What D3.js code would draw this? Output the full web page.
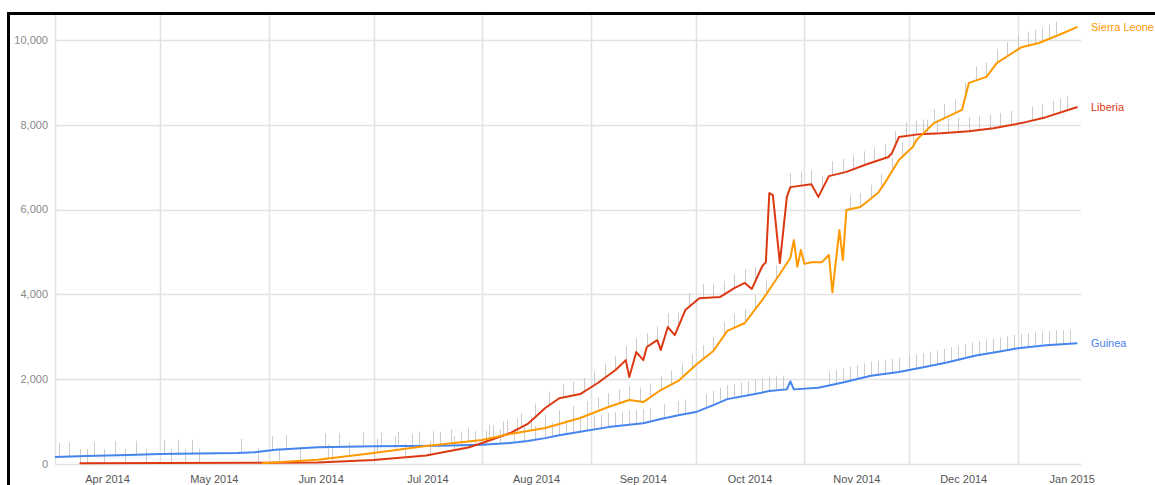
<!DOCTYPE html>
<html><head><meta charset="utf-8">
<script src="https://cdn.jsdelivr.net/npm/d3@7"></script>
<style>
html,body{margin:0;padding:0;background:#fff;}
svg{display:block;font-family:"Liberation Sans",Arial,sans-serif;}
</style></head>
<body>
<svg id="chart" width="1155" height="485"></svg>
<script>
// ---------- DATA ----------
const yTicks = [0, 2000, 4000, 6000, 8000, 10000];
const monthStarts = ["2014-04-01","2014-05-01","2014-06-01","2014-07-01","2014-08-01","2014-09-01","2014-10-01","2014-11-01","2014-12-01","2015-01-01","2015-02-01"];
const seriesNames = ["Guinea","Liberia","Sierra Leone"];
const seriesColors = ["#4684ee","#dc3912","#ff9900"];

const guineaDates = ["2014-04-01","2014-04-10","2014-04-22","2014-05-01","2014-05-23","2014-05-28","2014-06-03","2014-06-15","2014-07-01","2014-07-20","2014-08-01","2014-08-09","2014-08-14","2014-08-19","2014-08-23","2014-08-29","2014-09-06","2014-09-12","2014-09-16","2014-09-21","2014-09-26","2014-10-01","2014-10-06","2014-10-10","2014-10-16","2014-10-22","2014-10-27","2014-10-28","2014-10-29","2014-11-05","2014-11-12","2014-11-20","2014-11-28","2014-12-05","2014-12-12","2014-12-20","2014-12-26","2015-01-01","2015-01-09","2015-01-18"];
const guineaValues = [165,190,215,235,260,275,335,395,420,430,455,495,540,610,680,760,870,925,960,1060,1150,1225,1390,1530,1620,1720,1760,1950,1760,1800,1920,2080,2170,2280,2400,2560,2640,2730,2800,2850];

const liberiaDates = ["2014-04-08","2014-05-01","2014-06-01","2014-06-15","2014-07-01","2014-07-16","2014-07-28","2014-08-01","2014-08-09","2014-08-14","2014-08-19","2014-08-23","2014-08-29","2014-09-03","2014-09-08","2014-09-11","2014-09-12","2014-09-14","2014-09-16","2014-09-17","2014-09-20","2014-09-21","2014-09-23","2014-09-25","2014-09-28","2014-10-02","2014-10-08","2014-10-12","2014-10-15","2014-10-17","2014-10-20","2014-10-21","2014-10-22","2014-10-23","2014-10-25","2014-10-27","2014-10-28","2014-11-03","2014-11-05","2014-11-08","2014-11-13","2014-11-19","2014-11-25","2014-11-26","2014-11-28","2014-12-04","2014-12-10","2014-12-18","2014-12-25","2015-01-02","2015-01-09","2015-01-18"];
const liberiaValues = [20,25,30,35,95,200,390,495,730,945,1320,1550,1650,1910,2210,2450,2050,2640,2450,2760,2920,2690,3230,3040,3630,3910,3940,4150,4270,4130,4670,4760,6390,6340,4740,6300,6530,6600,6300,6790,6890,7075,7240,7330,7710,7780,7800,7850,7920,8040,8180,8420];

const sierraDates = ["2014-05-30","2014-06-15","2014-06-21","2014-07-01","2014-07-16","2014-08-01","2014-08-09","2014-08-19","2014-08-29","2014-09-06","2014-09-12","2014-09-16","2014-09-21","2014-09-26","2014-10-01","2014-10-06","2014-10-10","2014-10-15","2014-10-20","2014-10-25","2014-10-28","2014-10-29","2014-10-30","2014-10-31","2014-11-01","2014-11-03","2014-11-06","2014-11-08","2014-11-09","2014-11-11","2014-11-12","2014-11-13","2014-11-17","2014-11-22","2014-11-24","2014-11-28","2014-12-02","2014-12-03","2014-12-08","2014-12-16","2014-12-18","2014-12-23","2014-12-26","2015-01-02","2015-01-07","2015-01-14","2015-01-18"];
const sierraValues = [20,100,160,260,425,565,710,850,1085,1345,1510,1460,1745,1960,2335,2665,3140,3325,3870,4480,4860,5280,4650,5050,4720,4760,4760,4930,4050,5520,4810,5990,6060,6390,6630,7170,7480,7640,8040,8350,8990,9130,9460,9830,9930,10165,10310];

// annotation markers (dates)
const guineaMarks = ["2014-04-02","2014-04-05","2014-04-12","2014-04-18","2014-04-24","2014-05-02","2014-05-06","2014-05-10","2014-05-24","2014-06-02","2014-06-06","2014-06-17","2014-06-21","2014-06-28","2014-07-03","2014-07-08","2014-07-14","2014-07-20","2014-07-26","2014-08-02","2014-08-06","2014-08-10","2014-08-13","2014-08-16","2014-08-19","2014-08-21","2014-08-23","2014-08-25","2014-08-27","2014-08-29","2014-08-31","2014-09-02","2014-09-04","2014-09-06","2014-09-08","2014-09-10","2014-09-12","2014-09-14","2014-09-16","2014-09-18","2014-09-22","2014-09-26","2014-09-28","2014-10-04","2014-10-06","2014-10-08","2014-10-10","2014-10-12","2014-10-14","2014-10-16","2014-10-18","2014-10-20","2014-10-22","2014-10-24","2014-10-26","2014-11-08","2014-11-10","2014-11-12","2014-11-14","2014-11-16","2014-11-18","2014-11-20","2014-11-22","2014-11-24","2014-11-26","2014-11-28","2014-12-01","2014-12-03","2014-12-05","2014-12-07","2014-12-09","2014-12-11","2014-12-13","2014-12-15","2014-12-17","2014-12-19","2014-12-21","2014-12-23","2014-12-25","2014-12-27","2014-12-29","2014-12-31","2015-01-02","2015-01-04","2015-01-06","2015-01-08","2015-01-10","2015-01-12","2015-01-14","2015-01-16"];
const liberiaMarks = ["2014-04-08","2014-04-10","2014-04-15","2014-04-21","2014-04-27","2014-05-04","2014-05-08","2014-05-12","2014-05-29","2014-06-04","2014-06-19","2014-07-01","2014-07-10","2014-07-17","2014-07-24","2014-07-30","2014-08-04","2014-08-08","2014-08-12","2014-08-16","2014-08-20","2014-08-24","2014-08-27","2014-08-30","2014-09-02","2014-09-05","2014-09-08","2014-09-11","2014-09-14","2014-09-17","2014-09-20","2014-09-23","2014-09-26","2014-09-29","2014-10-03","2014-10-06","2014-10-09","2014-10-12","2014-10-15","2014-10-18","2014-10-28","2014-10-31","2014-11-03","2014-11-06","2014-11-09","2014-11-12","2014-11-15","2014-11-18","2014-11-21","2014-11-24","2014-11-27","2014-11-30","2014-12-03","2014-12-06","2014-12-09","2014-12-12","2014-12-15","2014-12-18","2014-12-21","2014-12-24","2014-12-27","2014-12-30","2015-01-05","2015-01-08","2015-01-11","2015-01-13","2015-01-15"];
const sierraMarks = ["2014-06-10","2014-06-18","2014-06-24","2014-07-02","2014-07-07","2014-07-12","2014-07-18","2014-07-23","2014-07-28","2014-08-03","2014-08-07","2014-08-11","2014-08-15","2014-08-19","2014-08-23","2014-08-27","2014-08-31","2014-09-03","2014-09-06","2014-09-09","2014-09-12","2014-09-15","2014-09-18","2014-09-21","2014-09-24","2014-09-27","2014-09-30","2014-10-03","2014-10-06","2014-10-09","2014-10-12","2014-10-15","2014-10-18","2014-10-21","2014-10-24","2014-11-14","2014-11-17","2014-11-20","2014-11-23","2014-11-26","2014-11-29","2014-12-02","2014-12-05","2014-12-08","2014-12-11","2014-12-14","2014-12-17","2014-12-20","2014-12-23","2014-12-26","2014-12-29","2015-01-01","2015-01-04","2015-01-06","2015-01-08","2015-01-10","2015-01-12"];

// ---------- CHART ----------
const parse = d3.utcParse("%Y-%m-%d");
const svg = d3.select("#chart");
const plotLeft = 55, plotRight = 1081, plotTop = 15;
const x = d3.scaleUtc().domain([parse("2014-04-01"), parse("2015-01-19")]).range([plotLeft, plotRight]);
const y = d3.scaleLinear().domain([0, 10000]).range([464, 40]);

const series = [
  {name: seriesNames[0], color: seriesColors[0], dates: guineaDates, values: guineaValues, marks: guineaMarks},
  {name: seriesNames[1], color: seriesColors[1], dates: liberiaDates, values: liberiaValues, marks: liberiaMarks},
  {name: seriesNames[2], color: seriesColors[2], dates: sierraDates, values: sierraValues, marks: sierraMarks}
].map(s => ({...s, pts: s.dates.map((d, i) => ({date: parse(d), value: s.values[i]}))}));

// grid
const months = monthStarts.map(parse);
const grid = svg.append("g");
grid.selectAll("line.v").data(months.filter(m => x(m) <= plotRight)).join("line")
  .attr("x1", d => Math.round(x(d)) + 0.5).attr("x2", d => Math.round(x(d)) + 0.5)
  .attr("y1", plotTop).attr("y2", y(0))
  .attr("stroke", "#e2e2e2").attr("stroke-width", 1.5);
grid.selectAll("line.h").data(yTicks).join("line")
  .attr("x1", plotLeft).attr("x2", plotRight)
  .attr("y1", d => Math.round(y(d)) + 0.5).attr("y2", d => Math.round(y(d)) + 0.5)
  .attr("stroke", "#e2e2e2").attr("stroke-width", 1.5);

// y labels
svg.append("g").selectAll("text").data(yTicks).join("text")
  .attr("x", 48).attr("y", d => y(d)).attr("dy", "0.35em")
  .attr("text-anchor", "end").attr("font-size", 11).attr("fill", "#8a8a8a")
  .text(d3.format(","));

// x labels at mid-month
const fmt = d3.utcFormat("%b %Y");
svg.append("g").selectAll("text").data(d3.pairs(months)).join("text")
  .attr("x", d => (x(d[0]) + x(d[1])) / 2).attr("y", 483)
  .attr("text-anchor", "middle").attr("font-size", 11).attr("fill", "#555")
  .text(d => fmt(d[0]));

// value at date for mark placement
function valueAt(pts, date) {
  const i = d3.bisector(p => p.date).left(pts, date);
  if (i <= 0) return pts[0].value;
  if (i >= pts.length) return pts[pts.length - 1].value;
  const a = pts[i - 1], b = pts[i];
  const t = (date - a.date) / (b.date - a.date);
  return a.value + t * (b.value - a.value);
}

// annotation marks
const markG = svg.append("g");
series.forEach(s => {
  markG.append("g").selectAll("line").data(s.marks.map(parse)).join("line")
    .attr("x1", d => Math.round(x(d)) + 0.5).attr("x2", d => Math.round(x(d)) + 0.5)
    .attr("y1", d => y(valueAt(s.pts, d))).attr("y2", d => y(valueAt(s.pts, d)) - 14)
    .attr("stroke", "#c4c4c4").attr("stroke-width", 1).attr("opacity", 0.85);
});

// lines
const line = d3.line().x(d => x(d.date)).y(d => y(d.value));
svg.append("g").selectAll("path").data(series).join("path")
  .attr("d", d => line(d.pts)).attr("fill", "none")
  .attr("stroke", d => d.color).attr("stroke-width", 2).attr("stroke-linejoin", "round");

// series labels
svg.append("g").selectAll("text").data(series).join("text")
  .attr("x", 1091).attr("y", d => y(d.pts[d.pts.length - 1].value)).attr("dy", "0.35em")
  .attr("font-size", 11).attr("fill", d => d.color).text(d => d.name);

// black frame (top and left edges of the cropped screenshot)
svg.append("rect").attr("x", 7).attr("y", 12).attr("width", 1155 - 7).attr("height", 3).attr("fill", "#000");
svg.append("rect").attr("x", 7).attr("y", 12).attr("width", 3).attr("height", 485 - 12).attr("fill", "#000");
</script>
</body></html>
